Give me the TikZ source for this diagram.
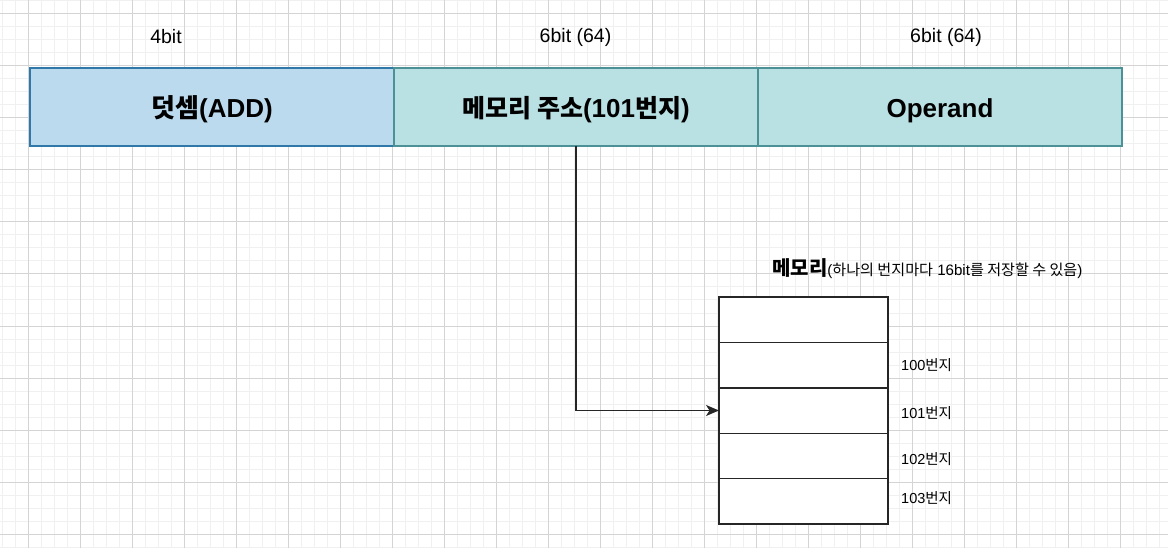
\documentclass[tikz,border=0pt]{standalone}
\usepackage{fontspec}
\setmainfont{Liberation Sans}
\newfontfamily\krfont{Noto Sans CJK KR}
\newcommand{\hg}[1]{{\krfont #1}}
\usepackage{tikz}
\usetikzlibrary{positioning, arrows.meta}

\definecolor{opfill}{HTML}{BBDAEE}
\definecolor{opline}{HTML}{2F78A8}
\definecolor{adfill}{HTML}{B9E0E3}
\definecolor{adline}{HTML}{4B9196}
\definecolor{gridminor}{HTML}{F0F0F0}
\definecolor{gridmajor}{HTML}{D4D4D4}

\tikzset{
	field/.style={rectangle, line width=1.3pt, outer sep=0pt, inner sep=0pt,
		minimum width=364pt, minimum height=78pt, text height=22pt, text depth=0pt,
		font=\fontsize{26}{30}\selectfont\bfseries},
	cell/.style={rectangle, draw=black!85, fill=white, line width=1.4pt,
		outer sep=0pt, minimum width=169pt, minimum height=45.4pt},
	bitlabel/.style={font=\fontsize{19.5}{23}\selectfont},
	addrlabel/.style={font=\fontsize{14.5}{17}\selectfont, inner sep=0pt},
	pointer/.style={draw=black!85, line width=1.3pt,
		-{Stealth[length=13pt, width=11pt, inset=3.5pt]}},
}

\begin{document}
\begin{tikzpicture}[x=1pt, y=-1pt]
	\useasboundingbox (0,0) rectangle (1168,548);
	% background grid
	\foreach \x in {2,15,...,1168} \draw [gridminor, line width=1pt] (\x,0) -- (\x,548);
	\foreach \y in {1,14,...,548} \draw [gridminor, line width=1pt] (0,\y) -- (1168,\y);
	\foreach \x in {28,80,...,1168} \draw [gridmajor, line width=1pt] (\x,0) -- (\x,548);
	\foreach \y in {14,66,...,548} \draw [gridmajor, line width=1pt] (0,\y) -- (1168,\y);

	% instruction word
	\node (opcode) [field, fill=opfill, draw=opline] at (212,107) {\hg{덧셈}(ADD)};
	\node (addr) [field, fill=adfill, draw=adline, right=0pt of opcode]
		{\hg{\fontsize{25}{30}\selectfont 메모리 주소}(101\hg{\fontsize{25}{30}\selectfont 번지})};
	\node (operand) [field, fill=adfill, draw=adline, right=0pt of addr] {Operand};

	\node (bits1) [bitlabel] at (166,37) {4bit};
	\node (bits2) [bitlabel] at (575.5,37) {6bit (64)};
	\node (bits3) [bitlabel] at (946,37) {6bit (64)};

	% memory
	\node (cell1) [cell] at (803.5,319.7) {};
	\node (cell2) [cell, below=0pt of cell1] {};
	\node (cell3) [cell, below=0pt of cell2] {};
	\node (cell4) [cell, below=0pt of cell3] {};
	\node (cell5) [cell, below=0pt of cell4] {};

	\node (memtitle) [anchor=base west, inner sep=0pt] at (772,276)
		{\fontsize{20}{22}\selectfont\bfseries\hg{메모리}\fontsize{15.1}{17}\selectfont\mdseries
		(\hg{하나의 번지마다} 16bit\hg{를 저장할 수 있음})};

	\node (a100) [addrlabel, right=13pt of cell2] {100\hg{번지}};
	\node (a101) [addrlabel, right=13pt of cell3, yshift=-2.5pt] {101\hg{번지}};
	\node (a102) [addrlabel, right=13pt of cell4, yshift=-3pt] {102\hg{번지}};
	\node (a103) [addrlabel, right=13pt of cell5, yshift=3pt] {103\hg{번지}};

	\draw [pointer] (addr.south) |- (cell3.west);
\end{tikzpicture}
\end{document}
